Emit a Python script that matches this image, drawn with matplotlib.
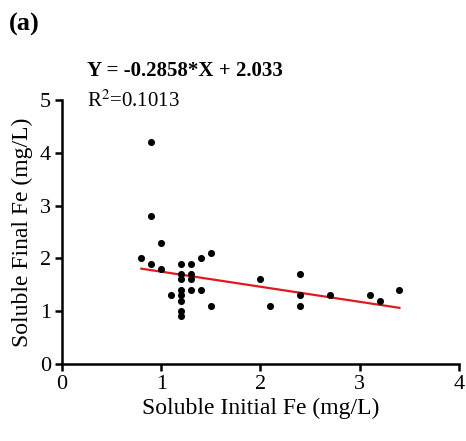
import matplotlib.pyplot as plt

plt.rcParams['font.family'] = ['Liberation Serif', 'DejaVu Serif']
plt.rcParams['mathtext.fontset'] = 'stix'

# soluble initial / final Fe (mg/L)
initial_fe = [0.8, 0.9, 0.9, 0.9, 1.0, 1.0, 1.1,
              1.2, 1.2, 1.2, 1.2, 1.2, 1.2, 1.2, 1.2,
              1.3, 1.3, 1.3, 1.3, 1.4, 1.4, 1.5, 1.5,
              2.0, 2.1, 2.4, 2.4, 2.4, 2.7, 3.1, 3.2, 3.4]
final_fe = [2.0, 4.2, 2.8, 1.9, 2.3, 1.8, 1.3,
            1.9, 1.7, 1.6, 1.4, 1.3, 1.2, 1.0, 0.9,
            1.9, 1.7, 1.6, 1.4, 2.0, 1.4, 2.1, 1.1,
            1.6, 1.1, 1.7, 1.3, 1.1, 1.3, 1.3, 1.2, 1.4]

slope = -0.2858
intercept = 2.033
r2 = 0.1013

fig = plt.figure(figsize=(4.66, 4.41), dpi=100)
ax = fig.add_axes([0.133, 0.175, 0.852, 0.598])

ax.scatter(initial_fe, final_fe, s=26, color='black', zorder=3, linewidths=0)
x_line = [min(initial_fe), max(initial_fe)]
y_line = [slope * x + intercept for x in x_line]
ax.plot(x_line, y_line, color='#e0191e', linewidth=1.6, zorder=2)

ax.set_xlim(0, 4)
ax.set_ylim(0, 5)
ax.set_xticks([0, 1, 2, 3, 4])
ax.set_yticks([0, 1, 2, 3, 4, 5])
ax.tick_params(direction='out', length=5, width=1.8, labelsize=16, pad=3)
for s in ['top', 'right']:
    ax.spines[s].set_visible(False)
for s in ['left', 'bottom']:
    ax.spines[s].set_linewidth(1.8)

ax.set_xlabel('Soluble Initial Fe (mg/L)', fontsize=17, labelpad=3)
ax.set_ylabel('Soluble Final Fe (mg/L)', fontsize=17, labelpad=5)

fig.text(0.02, 0.93, '(a)', fontsize=19, fontweight='bold')
fig.text(0.187, 0.828, f'Y = {slope}*X + {intercept}', fontsize=15, fontweight='bold')
fig.text(0.187, 0.757, f'R$^2$={r2}', fontsize=15)

fig.savefig('out.png', dpi=100)
